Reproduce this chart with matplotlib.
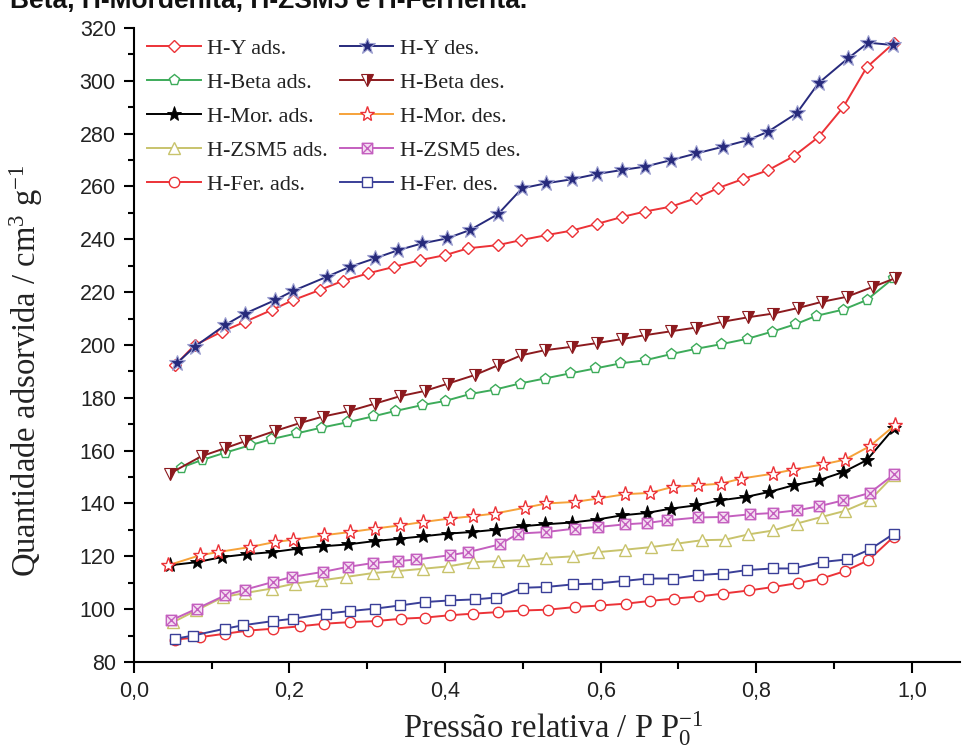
"""
Adsorption / desorption isotherms of the H-zeolites (H-Y, H-Beta, H-Mordenita,
H-ZSM5, H-Ferrierita). Values read off the published figure.
"""

import matplotlib.pyplot as plt
from matplotlib.path import Path
from matplotlib.ticker import MultipleLocator

# ============================================================================
# DATA — relative pressure P/P0 and adsorbed amount [cm3 g-1]
# ============================================================================
HY_ADS_X = [0.053, 0.078, 0.113, 0.143, 0.177, 0.205, 0.239, 0.269, 0.301, 0.335,
            0.368, 0.400, 0.430, 0.468, 0.498, 0.531, 0.563, 0.595, 0.627, 0.657,
            0.691, 0.723, 0.751, 0.783, 0.815, 0.848, 0.880, 0.912, 0.942, 0.977]
HY_ADS_Y = [192.3, 199.9, 205.0, 208.8, 213.2, 217.0, 220.8, 224.3, 227.1, 229.6,
            232.1, 234.0, 236.6, 237.8, 239.7, 241.6, 243.3, 245.8, 248.4, 250.5,
            252.4, 255.6, 259.4, 262.8, 266.1, 271.4, 278.7, 290.1, 305.1, 314.3]
HY_DES_X = [0.055, 0.078, 0.117, 0.143, 0.181, 0.205, 0.248, 0.278, 0.310, 0.340,
            0.370, 0.402, 0.432, 0.468, 0.499, 0.530, 0.563, 0.595, 0.627, 0.657,
            0.691, 0.723, 0.757, 0.790, 0.815, 0.852, 0.880, 0.918, 0.944, 0.976]
HY_DES_Y = [193.0, 199.3, 207.5, 211.9, 216.9, 220.5, 225.8, 229.6, 232.8, 235.9,
            238.4, 240.3, 243.5, 249.5, 259.3, 261.2, 262.7, 264.7, 266.2, 267.5,
            270.0, 272.5, 275.0, 277.6, 280.7, 287.7, 299.1, 308.5, 314.4, 313.5]

BETA_ADS_X = [0.060, 0.087, 0.117, 0.149, 0.176, 0.209, 0.241, 0.274, 0.308, 0.336,
              0.370, 0.400, 0.432, 0.464, 0.496, 0.528, 0.560, 0.593, 0.625, 0.657,
              0.690, 0.722, 0.755, 0.788, 0.820, 0.850, 0.877, 0.912, 0.942, 0.976]
BETA_ADS_Y = [153.5, 156.4, 159.2, 162.0, 164.3, 166.5, 168.7, 170.7, 173.0, 175.0,
              177.2, 178.8, 181.4, 183.1, 185.4, 187.3, 189.2, 191.1, 193.0, 194.2,
              196.5, 198.5, 200.3, 202.3, 205.0, 207.8, 211.0, 213.4, 217.0, 225.2]
BETA_DES_X = [0.046, 0.087, 0.117, 0.143, 0.181, 0.213, 0.243, 0.277, 0.310, 0.342,
              0.374, 0.404, 0.438, 0.468, 0.498, 0.528, 0.563, 0.595, 0.627, 0.657,
              0.691, 0.723, 0.757, 0.790, 0.822, 0.854, 0.884, 0.916, 0.950, 0.978]
BETA_DES_Y = [151.3, 157.9, 160.9, 163.6, 167.4, 170.4, 172.9, 175.0, 177.8, 180.6,
              182.6, 185.4, 188.6, 192.3, 196.1, 198.0, 199.3, 200.7, 202.2, 203.7,
              205.2, 206.6, 208.8, 210.5, 211.9, 214.0, 216.3, 218.2, 222.0, 225.2]

MOR_ADS_X = [0.046, 0.081, 0.113, 0.145, 0.178, 0.211, 0.243, 0.275, 0.310, 0.342,
             0.372, 0.404, 0.434, 0.466, 0.500, 0.528, 0.563, 0.595, 0.627, 0.659,
             0.691, 0.723, 0.754, 0.787, 0.817, 0.848, 0.880, 0.912, 0.942, 0.977]
MOR_ADS_Y = [116.6, 117.8, 119.7, 120.8, 121.6, 122.9, 123.8, 124.5, 125.8, 126.7,
             127.6, 128.6, 129.2, 130.1, 131.4, 132.1, 132.8, 133.9, 135.5, 136.4,
             138.1, 139.3, 141.2, 142.5, 144.4, 146.9, 148.8, 151.9, 156.4, 168.5]
MOR_DES_X = [0.044, 0.085, 0.108, 0.149, 0.181, 0.205, 0.245, 0.278, 0.310, 0.342,
             0.372, 0.406, 0.436, 0.464, 0.503, 0.530, 0.567, 0.597, 0.631, 0.663,
             0.693, 0.725, 0.755, 0.780, 0.822, 0.847, 0.886, 0.914, 0.946, 0.978]
MOR_DES_Y = [116.6, 120.4, 121.6, 123.5, 125.4, 126.3, 128.0, 129.2, 130.5, 131.7,
             133.0, 134.3, 135.2, 136.2, 138.4, 140.0, 140.6, 141.9, 143.5, 144.0,
             146.3, 146.9, 147.5, 149.4, 151.3, 152.8, 154.8, 156.6, 161.7, 169.6]

ZSM_ADS_X = [0.050, 0.080, 0.115, 0.143, 0.177, 0.207, 0.241, 0.273, 0.308, 0.338,
             0.372, 0.404, 0.436, 0.468, 0.500, 0.530, 0.565, 0.597, 0.631, 0.665,
             0.698, 0.730, 0.760, 0.790, 0.822, 0.852, 0.884, 0.914, 0.946, 0.977]
ZSM_ADS_Y = [95.0, 99.5, 104.6, 106.1, 107.8, 109.7, 110.9, 112.2, 113.7, 114.4,
             115.3, 116.2, 117.8, 118.2, 118.5, 119.4, 120.0, 121.6, 122.5, 123.5,
             124.8, 126.1, 126.3, 128.3, 129.8, 132.4, 134.9, 137.2, 141.2, 150.7]
ZSM_DES_X = [0.048, 0.081, 0.117, 0.143, 0.179, 0.203, 0.243, 0.275, 0.308, 0.340,
             0.363, 0.406, 0.430, 0.470, 0.494, 0.530, 0.567, 0.597, 0.631, 0.659,
             0.685, 0.725, 0.757, 0.792, 0.822, 0.852, 0.880, 0.912, 0.946, 0.977]
ZSM_DES_Y = [95.8, 100.2, 105.2, 107.4, 110.3, 112.2, 114.1, 116.0, 117.5, 118.2,
             118.8, 120.4, 121.6, 124.5, 128.6, 129.2, 130.5, 131.1, 132.1, 132.6,
             133.6, 134.7, 134.9, 135.9, 136.4, 137.4, 138.9, 141.2, 144.0, 151.0]

FER_ADS_X = [0.053, 0.085, 0.117, 0.147, 0.179, 0.213, 0.245, 0.278, 0.312, 0.344,
             0.374, 0.406, 0.436, 0.468, 0.500, 0.532, 0.567, 0.599, 0.633, 0.663,
             0.694, 0.727, 0.757, 0.791, 0.822, 0.854, 0.884, 0.914, 0.944, 0.977]
FER_ADS_Y = [88.5, 89.4, 90.7, 91.9, 92.6, 93.5, 94.5, 95.1, 95.5, 96.4,
             96.8, 97.7, 98.3, 98.9, 99.5, 99.8, 100.8, 101.4, 102.1, 103.1,
             104.0, 104.8, 105.9, 107.1, 108.4, 109.9, 111.6, 114.4, 118.5, 127.5]
FER_DES_X = [0.053, 0.076, 0.117, 0.140, 0.179, 0.205, 0.247, 0.278, 0.310, 0.342,
             0.374, 0.406, 0.438, 0.466, 0.500, 0.530, 0.565, 0.595, 0.630, 0.661,
             0.693, 0.725, 0.757, 0.788, 0.821, 0.847, 0.886, 0.916, 0.946, 0.977]
FER_DES_Y = [88.8, 90.0, 92.6, 93.9, 95.5, 96.4, 98.3, 99.3, 100.2, 101.4,
             102.7, 103.3, 103.7, 104.4, 108.1, 108.4, 109.4, 109.7, 110.7, 111.6,
             111.6, 112.9, 113.5, 114.8, 115.4, 115.4, 117.9, 118.8, 122.6, 128.6]

X_TICKS = [0.0, 0.2, 0.4, 0.6, 0.8, 1.0]
X_TICK_LABELS = ["0,0", "0,2", "0,4", "0,6", "0,8", "1,0"]
TITLE = "Beta, H-Mordenita, H-ZSM5 e H-Ferrierita."
# ============================================================================

SERIF = "Liberation Serif"
SANS = "Liberation Sans"
RED, NAVY, GREEN, MAROON = "#ec3237", "#272a7c", "#3dab5a", "#8c1a1e"
ORANGE, OLIVE, MAGENTA, BLUE = "#f6a23a", "#c8c36c", "#c45fbf", "#3a3f98"

# square with both diagonals, for the H-ZSM5 des markers
BOXED_X = Path(
    [(-1, -1), (1, -1), (1, 1), (-1, 1), (-1, -1), (-1, -1), (1, 1), (-1, 1), (1, -1)],
    [Path.MOVETO, Path.LINETO, Path.LINETO, Path.LINETO, Path.CLOSEPOLY,
     Path.MOVETO, Path.LINETO, Path.MOVETO, Path.LINETO],
)


def series_styles():
    lw = 1.4
    ads = [
        ("H-Y ads.", HY_ADS_X, HY_ADS_Y,
         dict(color=RED, marker="D", ms=6.5, mfc="white", mec=RED, mew=1.0)),
        ("H-Beta ads.", BETA_ADS_X, BETA_ADS_Y,
         dict(color=GREEN, marker="p", ms=8, mfc="white", mec=GREEN, mew=1.0)),
        ("H-Mor. ads.", MOR_ADS_X, MOR_ADS_Y,
         dict(color="black", marker="*", ms=11, mfc="black", mec="black", mew=0.6)),
        ("H-ZSM5 ads.", ZSM_ADS_X, ZSM_ADS_Y,
         dict(color=OLIVE, marker="^", ms=8, mfc="white", mec=OLIVE, mew=1.0)),
        ("H-Fer. ads.", FER_ADS_X, FER_ADS_Y,
         dict(color=RED, marker="o", ms=7.5, mfc="white", mec=RED, mew=1.0)),
    ]
    des = [
        ("H-Y des.", HY_DES_X, HY_DES_Y,
         dict(color=NAVY, marker="*", ms=12, mfc=NAVY, mec="#9c9fd0", mew=0.8)),
        ("H-Beta des.", BETA_DES_X, BETA_DES_Y,
         dict(color=MAROON, marker="v", ms=8.5, fillstyle="right", mfc=MAROON,
              markerfacecoloralt="white", mec=MAROON, mew=0.8)),
        ("H-Mor. des.", MOR_DES_X, MOR_DES_Y,
         dict(color=ORANGE, marker="*", ms=11, mfc="white", mec=RED, mew=1.0)),
        ("H-ZSM5 des.", ZSM_DES_X, ZSM_DES_Y,
         dict(color=MAGENTA, marker=BOXED_X, ms=7.5, mfc="#f4dcf1", mec=MAGENTA, mew=1.0)),
        ("H-Fer. des.", FER_DES_X, FER_DES_Y,
         dict(color=BLUE, marker="s", ms=7, mfc="white", mec=BLUE, mew=1.0)),
    ]
    return lw, ads, des


def style_axis(ax):
    for side in ("top", "right"):
        ax.spines[side].set_visible(False)
    for side in ("left", "bottom"):
        ax.spines[side].set_linewidth(1.5)
    ax.set_xlim(0, 1.062)
    ax.set_ylim(80, 320)
    ax.set_xticks(X_TICKS, X_TICK_LABELS)
    ax.xaxis.set_minor_locator(MultipleLocator(0.1))
    ax.yaxis.set_major_locator(MultipleLocator(20))
    ax.yaxis.set_minor_locator(MultipleLocator(10))
    ax.tick_params(axis="both", which="major", width=1.5, labelsize=15.5, pad=6)
    ax.tick_params(axis="both", which="minor", width=1.5)
    ax.tick_params(axis="x", which="major", length=8)
    ax.tick_params(axis="x", which="minor", length=5)
    ax.tick_params(axis="y", which="major", length=7)
    ax.tick_params(axis="y", which="minor", length=4)
    for lab in ax.get_xticklabels() + ax.get_yticklabels():
        lab.set_fontfamily(SANS)
        lab.set_color("#222222")


def main():
    plt.rcParams["font.family"] = SANS
    plt.rcParams["mathtext.fontset"] = "custom"
    plt.rcParams["mathtext.rm"] = SERIF
    plt.rcParams["mathtext.it"] = SERIF + ":italic"

    fig = plt.figure(figsize=(9.63, 7.54), dpi=100, facecolor="white")
    ax = fig.add_axes([0.139, 0.122, 0.858, 0.841])

    lw, ads, des = series_styles()
    handles = []
    for label, xs, ys, kw in ads + des:
        (h,) = ax.plot(xs, ys, lw=lw, label=label, **kw)
        handles.append(h)

    style_axis(ax)

    ax.legend(handles=handles, ncol=2, loc="upper left", frameon=False,
              bbox_to_anchor=(0.0, 1.004), prop={"family": SERIF, "size": 16},
              labelspacing=0.6, handlelength=2.4, handletextpad=0.3,
              columnspacing=0.55, borderaxespad=0.2, labelcolor="#222222")

    ax.set_ylabel(r"Quantidade adsorvida / cm$^{3}$ g$^{-1}$",
                  fontfamily=SERIF, fontsize=23.5, color="#222222")
    ax.yaxis.set_label_coords(-0.108, 0.46)
    ax.set_xlabel(r"Pressão relativa / P P$_{0}^{-1}$",
                  fontfamily=SERIF, fontsize=23.5, color="#222222")
    ax.xaxis.set_label_coords(0.508, -0.075)

    # the title line is clipped by the top edge, as in the source image
    fig.text(0.010, 0.990, TITLE, fontsize=19, fontweight="bold",
             fontfamily=SANS, va="baseline", ha="left", color="#111111")

    fig.savefig("out.png", dpi=100, facecolor="white")
    plt.close(fig)


if __name__ == "__main__":
    main()
